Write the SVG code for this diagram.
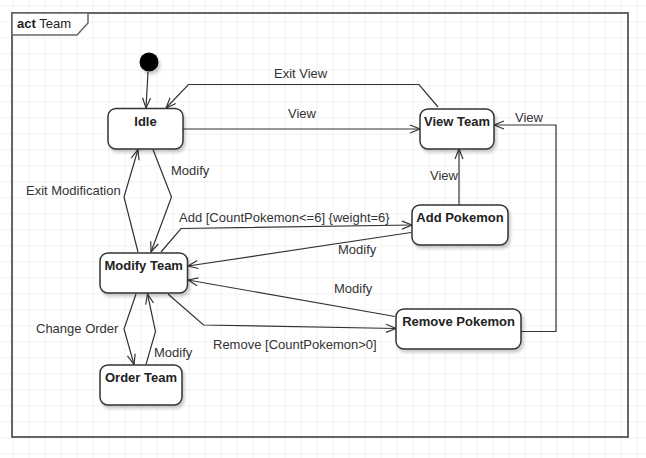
<svg xmlns="http://www.w3.org/2000/svg" width="646" height="458" viewBox="0 0 646 458">
<defs>
<pattern id="grid" x="12.5" y="5.5" width="16" height="16" patternUnits="userSpaceOnUse">
<path d="M0,0 H16 M0,0 V16" fill="none" stroke="#e6e6e6" stroke-width="1"/>
</pattern>
<filter id="sh" x="-20%" y="-20%" width="150%" height="160%">
<feDropShadow dx="2" dy="3" stdDeviation="1.5" flood-color="#000" flood-opacity="0.2"/>
</filter>
<marker id="arr" viewBox="0 0 12 10" refX="11" refY="5" markerWidth="12" markerHeight="10" markerUnits="userSpaceOnUse" orient="auto">
<path d="M1,1 L11,5 L1,9" fill="none" stroke="#333" stroke-width="1.2"/>
</marker>
<style>
.node rect{fill:#fff;stroke:#333;stroke-width:1.5;filter:url(#sh)}
.node text{font-family:"Liberation Sans",Arial,sans-serif;font-size:13px;font-weight:bold;fill:#222;text-anchor:middle}
.edge{fill:none;stroke:#333;stroke-width:1.2;marker-end:url(#arr)}
.lbl{font-family:"Liberation Sans",Arial,sans-serif;font-size:13px;fill:#333}
</style>
</defs>
<rect width="646" height="458" fill="#fff"/>
<rect width="646" height="458" fill="url(#grid)"/>
<g id="frame">
<rect x="12" y="13" width="616" height="424" fill="none" stroke="#666" stroke-width="2"/>
<path d="M12,13 H88 V23 L77,35 H12 Z" fill="#fff" stroke="#666" stroke-width="1.5"/>
<text x="17" y="28" font-family="&quot;Liberation Sans&quot;,Arial,sans-serif" font-size="13" fill="#222"><tspan font-weight="bold">act</tspan> Team</text>
</g>
<g id="connectors">
<path class="edge" d="M148,72 L146,108"/>
<path class="edge" d="M438,107 L419,84.5 H188.5 L166,108"/>
<path class="edge" d="M183,129 H420"/>
<path class="edge" d="M459,205 V149"/>
<path class="edge" d="M521,331.5 H556 V125 H494"/>
<path class="edge" d="M153,149.5 L171.5,197 L151,252"/>
<path class="edge" d="M138,252 L124,197 L138,149.5"/>
<path class="edge" d="M161,252 L181,228.5 L412,225"/>
<path class="edge" d="M411,232.5 L188,266"/>
<path class="edge" d="M395,316.5 L188,280"/>
<path class="edge" d="M168,294 L203.5,325 L396,328.5"/>
<path class="edge" d="M136,294 L124,329 L134,364.5"/>
<path class="edge" d="M146,364.5 L155.5,331.5 L147.5,294"/>
<text class="lbl" x="274" y="78">Exit View</text>
<text class="lbl" x="288" y="118">View</text>
<text class="lbl" x="430" y="180">View</text>
<text class="lbl" x="515" y="122">View</text>
<text class="lbl" x="171" y="175">Modify</text>
<text class="lbl" x="26" y="195">Exit Modification</text>
<text class="lbl" x="179" y="222">Add [CountPokemon&lt;=6] {weight=6}</text>
<text class="lbl" x="338" y="254">Modify</text>
<text class="lbl" x="334" y="293">Modify</text>
<text class="lbl" x="213" y="349">Remove [CountPokemon&gt;0]</text>
<text class="lbl" x="36" y="333">Change Order</text>
<text class="lbl" x="154" y="357">Modify</text>
</g>
<g id="initial">
<circle cx="149" cy="62" r="9.5" fill="#000" filter="url(#sh)"/>
</g>
<g id="idle" class="node">
<rect x="108" y="108.5" width="75" height="40.5" rx="8"/>
<text x="145.5" y="126">Idle</text>
</g>
<g id="view-team" class="node">
<rect x="420" y="109" width="74" height="40" rx="8"/>
<text x="457" y="126">View Team</text>
</g>
<g id="add-pokemon" class="node">
<rect x="412" y="205" width="96" height="40" rx="8"/>
<text x="460" y="222">Add Pokemon</text>
</g>
<g id="remove-pokemon" class="node">
<rect x="396" y="309" width="125" height="40" rx="8"/>
<text x="458.5" y="326">Remove Pokemon</text>
</g>
<g id="modify-team" class="node">
<rect x="100" y="253" width="87.5" height="40" rx="8"/>
<text x="143.7" y="270">Modify Team</text>
</g>
<g id="order-team" class="node">
<rect x="100" y="365" width="82" height="40" rx="8"/>
<text x="141" y="382">Order Team</text>
</g>
</svg>
